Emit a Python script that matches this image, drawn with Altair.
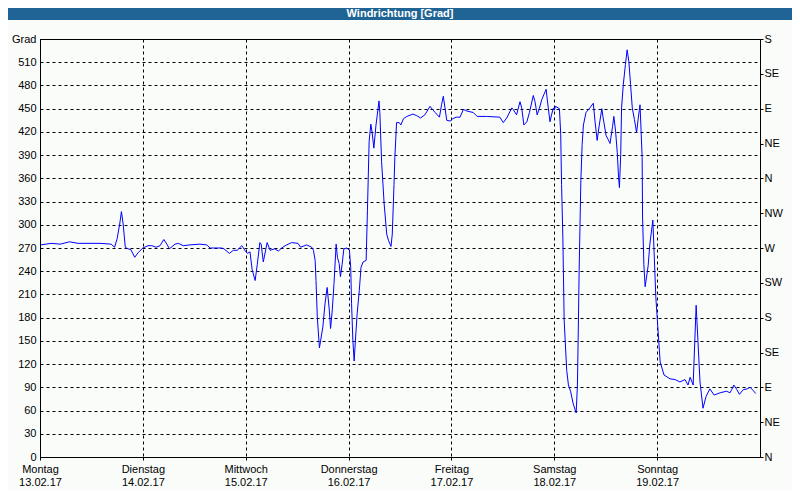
import altair as alt
import pandas as pd

title_text = "Windrichtung [Grad]"
day_names = ["Montag", "Dienstag", "Mittwoch", "Donnerstag", "Freitag", "Samstag", "Sonntag"]
day_dates = ["13.02.17", "14.02.17", "15.02.17", "16.02.17", "17.02.17", "18.02.17", "19.02.17"]
compass = ["N", "NE", "E", "SE", "S", "SW", "W", "NW"]

# hours since Monday 13.02.17 00:00
hours = [
    0.2, 2.6, 4.7, 6.9, 8.9, 11.2, 14.0, 16.6, 17.4, 18.0, 18.6, 19.0, 19.4, 19.9, 20.5, 21.2, 22.1, 22.9,
    24.0, 25.2, 26.1, 27.1, 28.0, 28.9, 29.6, 30.2, 31.5, 32.3, 33.4, 35.0, 37.3, 38.9, 39.7, 42.4, 42.9,
    44.2, 45.1, 46.0, 47.1, 47.8, 48.4, 49.0, 49.5, 50.2, 50.7, 51.3, 51.6, 52.1, 53.0, 53.7, 54.8, 55.6,
    56.4, 57.2, 58.7, 60.2, 60.8, 62.2, 63.4, 63.8, 64.2, 64.4, 64.7, 65.2, 65.5, 66.0, 66.5, 67.0, 67.5,
    67.8, 68.2, 68.6, 69.1, 69.4, 69.8, 70.1, 70.5, 70.9, 71.6, 72.2, 72.5, 72.7, 73.0, 73.3, 73.6, 74.0,
    74.5, 74.9, 75.4, 76.1, 76.4, 76.8, 77.2, 77.5, 77.9, 78.4, 78.7, 79.1, 79.3, 79.7, 80.3, 80.9, 81.3,
    81.9, 82.2, 82.6, 82.8, 83.2, 83.8, 84.2, 84.8, 85.6, 87.0, 87.9, 88.8, 89.8, 91.0, 92.2, 93.2, 93.7,
    94.1, 94.5, 94.9, 95.7, 96.3, 97.1, 98.0, 98.8, 99.6, 101.1, 102.0, 104.2, 107.3, 108.1, 108.9, 110.1,
    110.4, 111.2, 112.0, 112.4, 112.9, 113.6, 114.2, 115.1, 115.5, 116.0, 116.5, 117.1, 118.1, 118.4,
    118.6, 119.0, 119.4, 119.8, 120.0, 120.3, 121.2, 121.5, 121.7, 122.0, 122.3, 122.9, 123.3, 123.8,
    124.4, 125.1, 125.4, 125.6, 125.8, 126.2, 126.5, 126.8, 127.4, 128.3, 129.1, 129.5, 130.0, 130.5,
    131.1, 131.4, 132.1, 132.6, 133.0, 133.6, 133.9, 134.3, 134.7, 135.0, 135.2, 135.5, 135.7, 136.1,
    136.6, 137.0, 137.4, 137.8, 138.2, 138.7, 139.2, 139.6, 140.0, 140.2, 140.5, 140.6, 140.9, 141.2,
    141.9, 142.3, 143.0, 143.7, 144.7, 145.6, 147.0, 148.2, 149.3, 150.5, 151.2, 151.7, 152.4, 153.1,
    154.0, 154.7, 155.4, 156.3, 157.3, 158.7, 160.2, 161.0, 161.4, 161.9, 162.6, 163.2, 164.1, 165.0,
    165.7, 166.4, 167.0,
]
degrees = [
    274, 276, 275, 278, 276, 276, 276, 275, 271, 282, 301, 317, 301, 271, 269, 268, 258, 264,
    270, 273, 273, 271, 273, 281, 275, 269, 275, 276, 273, 274, 275, 274, 270, 270, 269,
    263, 267, 267, 273, 267, 263, 265, 242, 228, 249, 277, 275, 252, 277, 267, 269, 266,
    270, 273, 277, 276, 271, 274, 271, 267, 254, 228, 181, 141, 151, 168, 198, 219, 190,
    166, 190, 224, 275, 258, 250, 233, 249, 269, 270, 267, 245, 198, 151, 124, 151, 185,
    215, 245, 252, 254, 318, 408, 430, 419, 399, 429, 442, 460, 445, 382, 327, 288, 280,
    272, 288, 352, 387, 432, 432, 429, 437, 440, 443, 441, 438, 442, 453, 445, 439, 455,
    466, 451, 435, 434, 437, 439, 439, 449, 447, 445, 440, 440, 439, 432, 438, 451,
    449, 442, 459, 451, 429, 433, 445, 467, 459, 442, 450, 462, 475, 460,
    451, 433, 443, 451, 448, 453, 450, 417, 352, 284, 177, 112, 93, 85,
    69, 57, 93, 164, 241, 357, 404, 429, 445, 451, 457, 434, 409, 429,
    450, 438, 415, 410, 405, 427, 440, 421, 393, 361, 348, 391, 451, 481,
    507, 526, 511, 481, 451, 436, 419, 438, 455, 429, 387, 310, 249, 220,
    247, 275, 306, 206, 123, 106, 101, 100, 97, 100, 93, 103, 93, 196,
    97, 63, 78, 88, 80, 83, 85, 83, 87, 93, 87, 81, 87, 88,
    90, 86, 82,
]

df = pd.DataFrame({"h": hours, "v": degrees})

days_js = "[" + ",".join("['%s','%s']" % (n, d) for n, d in zip(day_names, day_dates)) + "]"
comp_js = "[" + ",".join("'%s'" % c for c in compass) + "]"

FONT = "Liberation Sans"
xscale = alt.Scale(domain=[0, 168], nice=False, zero=False)
yscale = alt.Scale(domain=[0, 540], nice=False, zero=True)

line = alt.Chart(df).mark_line(color="#0000ff", strokeWidth=1).encode(
    x=alt.X("h:Q", scale=xscale, title=None,
            axis=alt.Axis(values=[0, 24, 48, 72, 96, 120, 144],
                          labelExpr=days_js + "[round(datum.value/24)]",
                          grid=True, gridColor="#000000", gridDash=[3, 3], gridOpacity=1,
                          ticks=True, tickSize=3, tickColor="#000000",
                          domainColor="#000000", labelPadding=3, labelLineHeight=13,
                          labelFont=FONT, labelFontSize=11, labelColor="#000000",
                          labelAngle=0, labelAlign="center")),
    y=alt.Y("v:Q", scale=yscale, title=None,
            axis=alt.Axis(orient="left", values=list(range(0, 541, 30)),
                          labelExpr="datum.value == 540 ? 'Grad' : datum.label",
                          grid=True, gridColor="#000000", gridDash=[3, 3], gridOpacity=1,
                          ticks=False, tickSize=0, domainColor="#000000", labelPadding=4,
                          labelFont=FONT, labelFontSize=11, labelColor="#000000")),
)

right = alt.Chart(df).mark_line(opacity=0).encode(
    x=alt.X("h:Q", scale=xscale, axis=None),
    y=alt.Y("v:Q", scale=yscale, title=None,
            axis=alt.Axis(orient="right", values=list(range(0, 541, 45)),
                          labelExpr=comp_js + "[round(datum.value/45) % 8]",
                          grid=False, ticks=True, tickSize=3, tickColor="#000000",
                          domainColor="#000000", labelPadding=1,
                          labelFont=FONT, labelFontSize=11, labelColor="#000000")),
)

one = pd.DataFrame({"t": [title_text]})
bar = alt.Chart(one).mark_rect(color="#1f6495").encode(
    x=alt.value(-32), x2=alt.value(752), y=alt.value(-31), y2=alt.value(-19)
)
ttl = alt.Chart(one).mark_text(color="white", font=FONT, fontSize=11, fontWeight="bold",
                              baseline="middle", align="center").encode(
    text="t:N", x=alt.value(360), y=alt.value(-25)
)

chart = alt.layer(line, right, bar, ttl).resolve_axis(x="independent", y="independent").properties(
    width=720, height=418,
    autosize=alt.AutoSizeParams(type="none"),
    padding={"left": 32, "top": 31, "right": 32, "bottom": 34},
    background="#fafcfa",
).configure_view(stroke="#000000", strokeWidth=1)

chart.save("out.html", embed_options={"renderer": "svg", "actions": False})
